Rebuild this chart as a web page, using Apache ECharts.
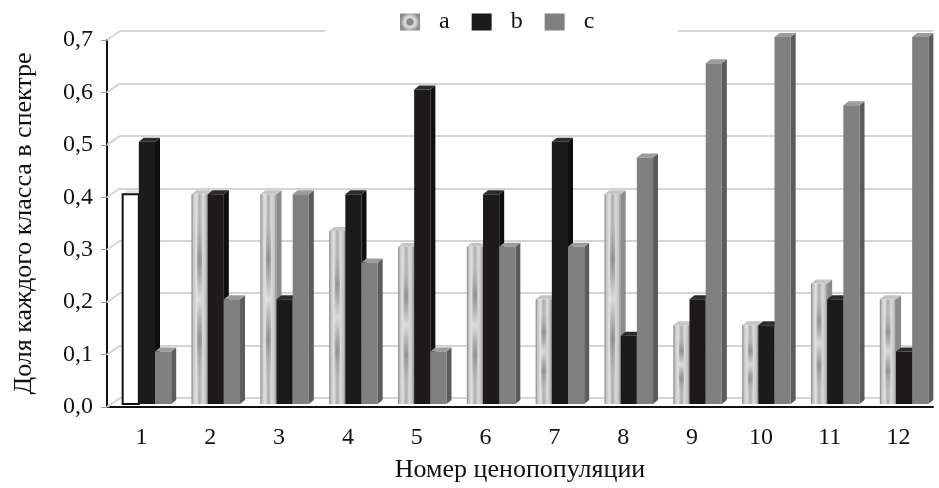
<!DOCTYPE html>
<html>
<head>
<meta charset="utf-8">
<script src="https://cdn.jsdelivr.net/npm/echarts@6/dist/echarts.min.js"></script>
<style>
  html, body { margin: 0; padding: 0; background: #fff; }
  #chart { width: 939px; height: 488px; }
</style>
</head>
<body>
<div id="chart"></div>
<script>
// data
var categories = ['1', '2', '3', '4', '5', '6', '7', '8', '9', '10', '11', '12'];
var valuesA = [0.4, 0.4, 0.4, 0.33, 0.3, 0.3, 0.2, 0.4, 0.15, 0.15, 0.23, 0.2];
var valuesB = [0.5, 0.4, 0.2, 0.4, 0.6, 0.4, 0.5, 0.13, 0.2, 0.15, 0.2, 0.1];
var valuesC = [0.1, 0.2, 0.4, 0.27, 0.1, 0.3, 0.3, 0.47, 0.65, 0.7, 0.57, 0.7];
var yTicks = [0, 0.1, 0.2, 0.3, 0.4, 0.5, 0.6, 0.7];
var whiteBarIndex = 0; // first bar of series a is drawn white in the original

var font = '"Liberation Serif", "DejaVu Serif", serif';

var chart = echarts.init(document.getElementById('chart'));

var gradA = new echarts.graphic.LinearGradient(0, 0, 1, 0, [
  {offset: 0, color: '#858585'},
  {offset: 0.12, color: '#c4c4c4'},
  {offset: 0.3, color: '#e2e2e2'},
  {offset: 0.5, color: '#a9a9a9'},
  {offset: 0.7, color: '#dadada'},
  {offset: 0.88, color: '#c2c2c2'},
  {offset: 1, color: '#858585'}
]);
var streakA = new echarts.graphic.LinearGradient(0, 0, 0, 1, [
  {offset: 0, color: 'rgba(235,235,235,0)'},
  {offset: 0.3, color: 'rgba(120,120,120,0.55)'},
  {offset: 0.5, color: 'rgba(235,235,235,0.7)'},
  {offset: 0.7, color: 'rgba(120,120,120,0.55)'},
  {offset: 1, color: 'rgba(235,235,235,0)'}
]);
var legendA = new echarts.graphic.RadialGradient(0.5, 0.5, 0.7, [
  {offset: 0, color: '#8a8a8a'},
  {offset: 0.25, color: '#8a8a8a'},
  {offset: 0.4, color: '#e6e6e6'},
  {offset: 0.6, color: '#bdbdbd'},
  {offset: 0.8, color: '#8c8c8c'},
  {offset: 1, color: '#8c8c8c'}
]);

function toData(arr) {
  return arr.map(function (v, i) { return [i, v]; });
}

function makeRender(idx, front, side, topc) {
  return function (params, api) {
    var cat = api.value(0), v = api.value(1);
    var base = api.coord([cat, 0]);
    var tp = api.coord([cat, v]);
    var cw = api.size([1, 0])[0];
    var bw = cw * 0.235;
    var dx = 5, dy = -4;
    var x0 = base[0] - 1.5 * bw + cw * 0.08 + idx * bw;
    var yb = base[1] - 3;
    var yt = tp[1] - 3;
    var f = front, s = side, t = topc, stroke = null, lw = 0;
    var white = idx === 0 && params.dataIndex === whiteBarIndex;
    if (white) {
      f = '#ffffff'; s = '#dddddd'; t = '#e8e8e8'; stroke = '#111'; lw = 2;
    }
    var children = [
      {
        type: 'polygon',
        shape: {points: [[x0 + bw, yt], [x0 + bw + dx, yt + dy], [x0 + bw + dx, yb + dy], [x0 + bw, yb]]},
        style: {fill: s}
      },
      {
        type: 'polygon',
        shape: {points: [[x0, yt], [x0 + dx, yt + dy], [x0 + bw + dx, yt + dy], [x0 + bw, yt]]},
        style: {fill: t}
      },
      {
        type: 'rect',
        shape: {x: x0, y: yt, width: bw, height: yb - yt},
        style: {fill: f, stroke: stroke, lineWidth: lw}
      }
    ];
    if (idx === 0 && !white) {
      children.push({
        type: 'rect',
        shape: {x: x0 + bw * 0.35, y: yt + 4, width: bw * 0.3, height: yb - yt - 8},
        style: {fill: streakA}
      });
    }
    return {type: 'group', children: children};
  };
}

var option = {
  backgroundColor: '#fff',
  animation: false,
  graphic: [{
    type: 'rect', left: 325, top: 0, z: 3,
    shape: {width: 353, height: 37},
    style: {fill: '#fff'}
  }],
  legend: {
    left: 395, top: 5, z: 10,
    itemWidth: 20, itemHeight: 17, itemGap: 22,
    icon: 'rect',
    textStyle: {fontFamily: font, fontSize: 24, color: '#111', padding: [0, 0, 0, 14]},
    data: [
      {name: 'a', itemStyle: {color: legendA}},
      {name: 'b'},
      {name: 'c'}
    ]
  },
  grid: [
    {left: 107, right: 6, top: 40, bottom: 81},
    {left: 120, right: 6, top: 31, bottom: 90}
  ],
  xAxis: [
    {
      type: 'category', gridIndex: 0, data: categories,
      name: 'Номер ценопопуляции', nameLocation: 'middle', nameGap: 50,
      nameTextStyle: {fontFamily: font, fontSize: 26, color: '#111'},
      axisLine: {lineStyle: {color: '#111', width: 2}},
      axisTick: {length: 6, lineStyle: {color: '#333'}},
      axisLabel: {fontFamily: font, fontSize: 24, color: '#111', margin: 19},
      splitLine: {show: false}
    },
    {type: 'value', gridIndex: 1, show: false, min: 0, max: 1}
  ],
  yAxis: [
    {
      type: 'value', gridIndex: 0, min: yTicks[0], max: yTicks[yTicks.length - 1], interval: 0.1,
      name: 'Доля каждого класса в спектре', nameLocation: 'middle', nameGap: 70,
      nameTextStyle: {fontFamily: font, fontSize: 26, color: '#111'},
      axisLine: {show: true, lineStyle: {color: '#111', width: 2}},
      axisTick: {show: true, length: 6, lineStyle: {color: '#999'}},
      axisLabel: {
        fontFamily: font, fontSize: 24, color: '#111', margin: 14,
        formatter: function (v) { return v.toFixed(1).replace('.', ','); }
      },
      splitLine: {show: false}
    },
    {
      type: 'value', gridIndex: 1, min: yTicks[0], max: yTicks[yTicks.length - 1], interval: 0.1,
      axisLine: {show: false}, axisTick: {show: false}, axisLabel: {show: false},
      splitLine: {show: true, lineStyle: {color: '#d4d4d4', width: 2}}
    }
  ],
  series: [
    {
      name: 'a', type: 'custom', xAxisIndex: 0, yAxisIndex: 0,
      itemStyle: {color: gradA},
      renderItem: makeRender(0, gradA, '#8a8a8a', '#c6c6c6'),
      data: toData(valuesA), z: 5
    },
    {
      name: 'b', type: 'custom', xAxisIndex: 0, yAxisIndex: 0,
      itemStyle: {color: '#1c1a1a'},
      renderItem: makeRender(1, '#1c1a1a', '#0e0e0e', '#2c2c2c'),
      data: toData(valuesB), z: 6
    },
    {
      name: 'c', type: 'custom', xAxisIndex: 0, yAxisIndex: 0,
      itemStyle: {color: '#808080'},
      renderItem: makeRender(2, '#808080', '#5c5c5c', '#9c9c9c'),
      data: toData(valuesC), z: 7
    }
  ]
};

chart.setOption(option);

// short diagonal connectors from the front axis to the back grid lines
var links = yTicks.map(function (v) {
  var yf = chart.convertToPixel({yAxisIndex: 0}, v);
  var yk = chart.convertToPixel({yAxisIndex: 1}, v);
  return {
    type: 'line', z: 1,
    shape: {x1: 107, y1: yf, x2: 120, y2: yk},
    style: {stroke: '#d4d4d4', lineWidth: 2}
  };
});
chart.setOption({graphic: option.graphic.concat(links)});
</script>
</body>
</html>
